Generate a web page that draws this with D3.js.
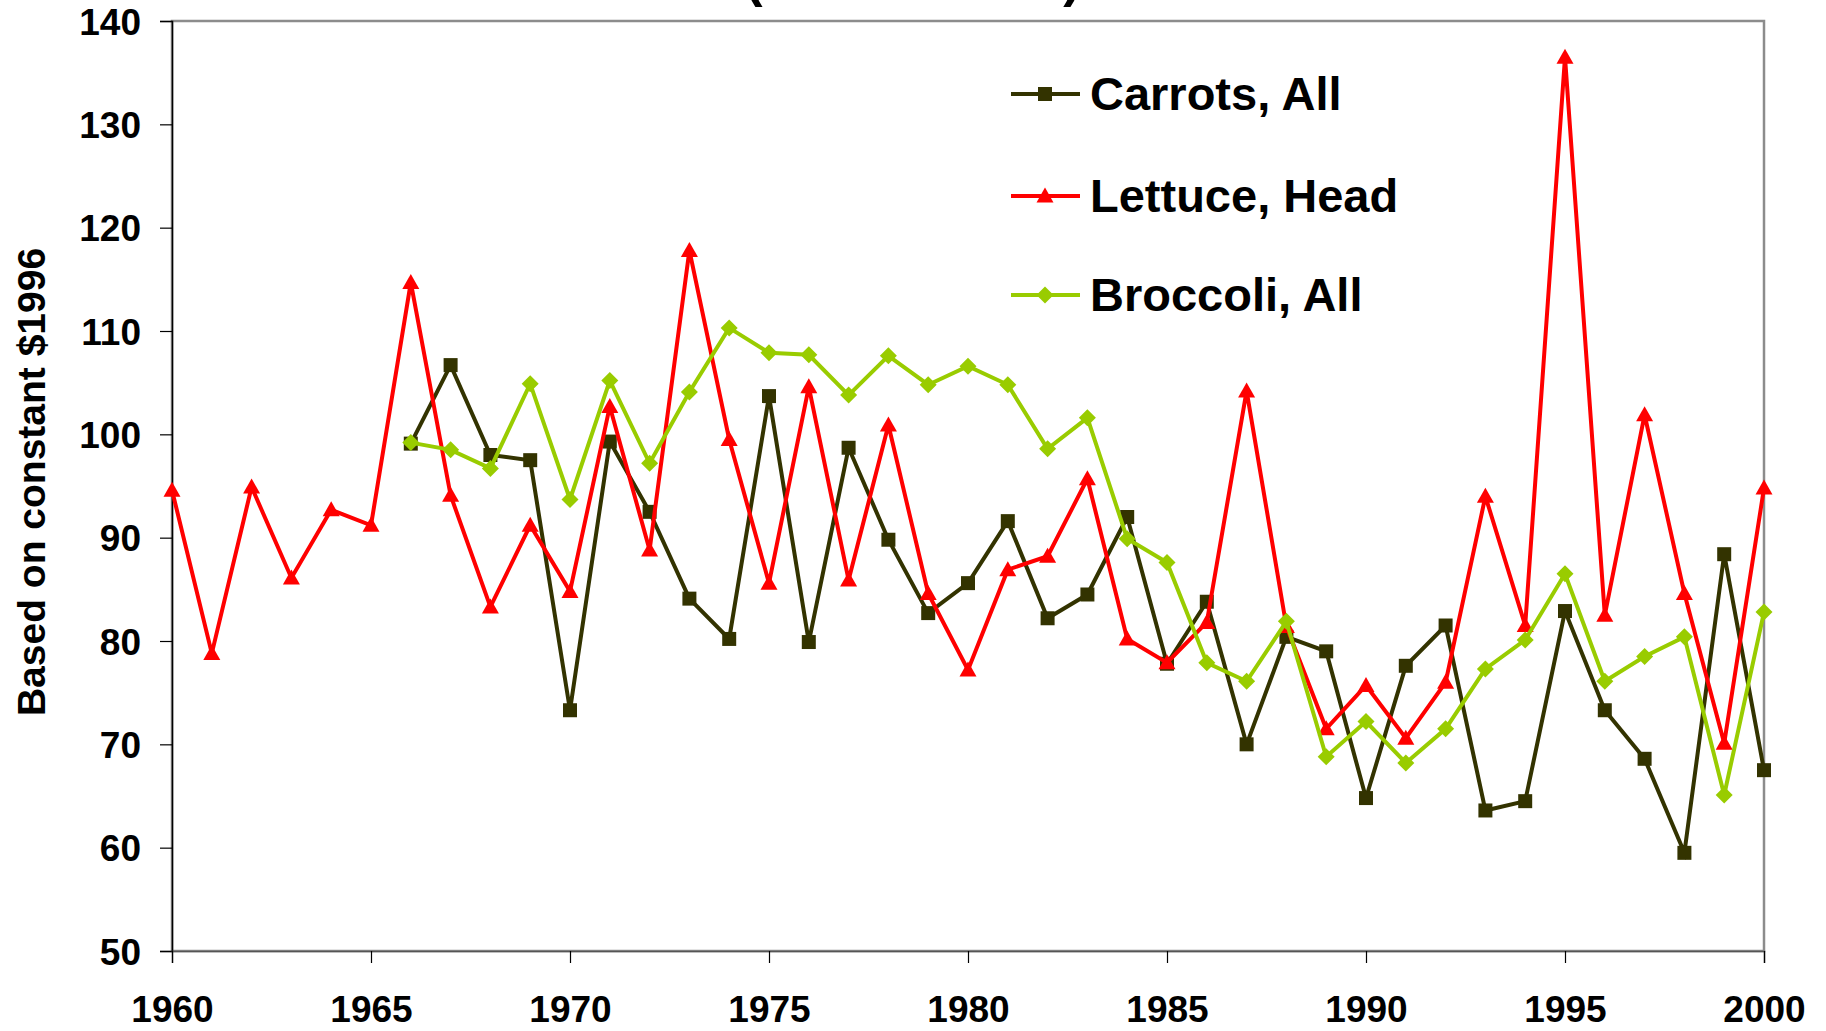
<!DOCTYPE html>
<html>
<head>
<meta charset="utf-8">
<script src="https://cdn.jsdelivr.net/npm/d3@7"></script>
<style>
  html, body { margin: 0; padding: 0; background: #fff; }
  svg { display: block; font-family: "Liberation Sans", Arial, sans-serif; font-weight: bold; }
</style>
</head>
<body>
<script>
// ---- data ----
const yearsLettuce = d3.range(1960, 2001);
const yearsCarrots = d3.range(1966, 2001);
const yearsBroccoli = d3.range(1966, 2001);

const lettuce = [94.6, 78.8, 94.9, 86.1, 92.7, 91.2, 114.7, 94.1, 83.3, 91.2,
  84.8, 102.7, 88.8, 117.8, 99.5, 85.6, 104.6, 85.9, 100.9, 84.6,
  77.2, 86.9, 88.2, 95.7, 80.2, 77.9, 81.8, 104.2, 81.4, 71.5,
  75.7, 70.6, 76.0, 94.0, 81.5, 136.5, 82.5, 101.9, 84.6, 70.1, 94.8];

const carrots = [99.1, 106.7, 98.0, 97.5, 73.3, 99.3, 92.5, 84.1, 80.2, 103.7,
  79.9, 98.7, 89.8, 82.7, 85.6, 91.6, 82.2, 84.5, 92.0, 77.8,
  83.8, 70.0, 80.4, 79.0, 64.8, 77.6, 81.5, 63.6, 64.5, 82.9,
  73.3, 68.6, 59.5, 88.4, 67.5];

const broccoli = [99.2, 98.5, 96.7, 104.9, 93.7, 105.2, 97.2, 104.1, 110.3, 107.9,
  107.7, 103.8, 107.6, 104.8, 106.6, 104.8, 98.6, 101.6, 89.9, 87.6,
  77.9, 76.1, 81.9, 68.8, 72.2, 68.2, 71.5, 77.3, 80.1, 86.5,
  76.1, 78.5, 80.4, 65.1, 82.8];

const seriesNames = ["Carrots, All", "Lettuce, Head", "Broccoli, All"];
const xTicks = [1960, 1965, 1970, 1975, 1980, 1985, 1990, 1995, 2000];
const yTicks = [50, 60, 70, 80, 90, 100, 110, 120, 130, 140];
const yLabel = "Based on constant $1996";
const titleTail = "(1996 dollars)";

// ---- layout ----
const W = 1826, H = 1031;
const L = 172, R = 1764, T = 21, B = 951;

const svg = d3.select("body").append("svg").attr("width", W).attr("height", H);

const x = d3.scaleLinear().domain([1960, 2000]).range([L, R]);
const y = d3.scaleLinear().domain([50, 140]).range([B, T]);

// title (mostly outside the top edge, as in the reference)
svg.append("text").attr("x", 913).attr("y", -4)
  .attr("text-anchor", "middle").attr("font-size", 52).text(titleTail);

// plot frame
svg.append("rect").attr("x", L).attr("y", T).attr("width", R - L).attr("height", B - T)
  .attr("fill", "none").attr("stroke", "#8c8c8c").attr("stroke-width", 2.5);

// y axis
const yAxis = d3.axisLeft(y).tickValues(yTicks).tickSize(12).tickPadding(19).tickFormat(d3.format("d"));
const gy = svg.append("g").attr("transform", `translate(${L},0)`).call(yAxis);
gy.select(".domain").attr("stroke", "#000").attr("stroke-width", 1.5);
gy.selectAll(".tick line").attr("stroke", "#000").attr("stroke-width", 1.2);
gy.selectAll(".tick text").attr("font-size", 37).attr("font-family", "Liberation Sans, Arial, sans-serif")
  .attr("font-weight", "bold").attr("fill", "#000").attr("dy", "0.36em");

// x axis
const xAxis = d3.axisBottom(x).tickValues(xTicks).tickSize(12).tickPadding(0).tickFormat(d3.format("d"));
const gx = svg.append("g").attr("transform", `translate(0,${B})`).call(xAxis);
gx.select(".domain").attr("stroke", "#555").attr("stroke-width", 1.5);
gx.selectAll(".tick line").attr("stroke", "#000").attr("stroke-width", 1.2);
gx.selectAll(".tick text").attr("font-size", 37).attr("font-family", "Liberation Sans, Arial, sans-serif")
  .attr("font-weight", "bold").attr("fill", "#000").attr("dy", null).attr("y", 71);

// y label
svg.append("text").attr("transform", "translate(45,482) rotate(-90)")
  .attr("text-anchor", "middle").attr("font-size", 39).text(yLabel);

// series
const series = [
  { name: seriesNames[0], years: yearsCarrots, vals: carrots, color: "#333300", marker: "square" },
  { name: seriesNames[1], years: yearsLettuce, vals: lettuce, color: "#ff0000", marker: "triangle" },
  { name: seriesNames[2], years: yearsBroccoli, vals: broccoli, color: "#99cc00", marker: "diamond" }
];

function markerPath(type) {
  if (type === "square") return "M-7,-7H7V7H-7Z";
  if (type === "triangle") return "M0,-8.5L8.5,6.5H-8.5Z";
  return "M0,-8.5L8.5,0L0,8.5L-8.5,0Z";
}

const line = d3.line().x(d => x(d[0])).y(d => y(d[1]));

series.forEach(s => {
  const pts = s.years.map((yr, i) => [yr, s.vals[i]]);
  const g = svg.append("g");
  g.append("path").datum(pts).attr("d", line)
    .attr("fill", "none").attr("stroke", s.color).attr("stroke-width", 4)
    .attr("stroke-linejoin", "miter");
  g.selectAll("path.m").data(pts).enter().append("path").attr("class", "m")
    .attr("transform", d => `translate(${x(d[0])},${y(d[1])})`)
    .attr("d", markerPath(s.marker)).attr("fill", s.color);
});

// legend
const legY = [94, 196, 295];
series.forEach((s, i) => {
  const g = svg.append("g").attr("transform", `translate(0,${legY[i]})`);
  g.append("line").attr("x1", 1011).attr("x2", 1080).attr("y1", 0).attr("y2", 0)
    .attr("stroke", s.color).attr("stroke-width", 4);
  g.append("path").attr("transform", "translate(1045,0)").attr("d", markerPath(s.marker)).attr("fill", s.color);
  g.append("text").attr("x", 1090).attr("y", 16).attr("font-size", 47).attr("fill", "#000").text(s.name);
});
</script>
</body>
</html>
